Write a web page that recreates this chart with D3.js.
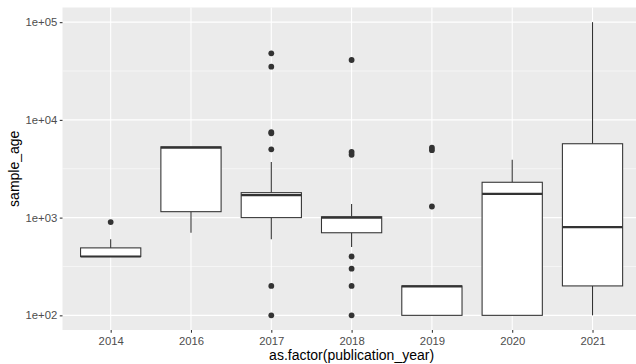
<!DOCTYPE html>
<html>
<head>
<meta charset="utf-8">
<script src="https://cdn.jsdelivr.net/npm/d3@7"></script>
<style>
  body { margin: 0; background: #fff; }
  text { font-family: "Liberation Sans", Arial, sans-serif; }
</style>
</head>
<body>
<div id="chart"></div>
<script>
// Box stats, one entry per publication year
var years = ["2014", "2016", "2017", "2018", "2019", "2020", "2021"];
var whiskerLow  = [400,  700, 600,  500, 100, 100, 100];
var q1          = [400, 1150, 1000, 700, 100, 100, 200];
var median      = [400, 5200, 1700, 1000, 198, 1750, 800];
var q3          = [490, 5300, 1800, 1020, 200, 2300, 5700];
var whiskerHigh = [600, 5300, 3700, 1380, 200, 3900, 100000];
var outliers = [
  [900],
  [],
  [48000, 35000, 7500, 7300, 5000, 200, 100],
  [41000, 4700, 4400, 400, 300, 200, 100],
  [5200, 4900, 1300],
  [],
  []
];
var yBreaks = [1e2, 1e3, 1e4, 1e5];
var yMinor = [Math.pow(10, 2.5), Math.pow(10, 3.5), Math.pow(10, 4.5)];

var W = 636, H = 364;
var panel = {left: 62.5, right: 640.7, top: 7.5, bottom: 330};

var svg = d3.select("#chart").append("svg")
  .attr("width", W)
  .attr("height", H);

var x = d3.scalePoint()
  .domain(years)
  .range([panel.left, panel.right])
  .padding(0.6);

var y = d3.scaleLog()
  .domain([Math.pow(10, 1.85), Math.pow(10, 5.15)])
  .range([panel.bottom, panel.top]);

var boxW = x.step() * 0.75;

//panel background + grid
svg.append("rect")
  .attr("x", panel.left).attr("y", panel.top)
  .attr("width", panel.right - panel.left)
  .attr("height", panel.bottom - panel.top)
  .attr("fill", "#EBEBEB");

svg.selectAll(".minor")
  .data(yMinor).enter().append("line")
  .attr("x1", panel.left).attr("x2", panel.right)
  .attr("y1", y).attr("y2", y)
  .attr("stroke", "#fff").attr("stroke-width", 0.53);

svg.selectAll(".hmajor")
  .data(yBreaks).enter().append("line")
  .attr("x1", panel.left).attr("x2", panel.right)
  .attr("y1", y).attr("y2", y)
  .attr("stroke", "#fff").attr("stroke-width", 1.07);

svg.selectAll(".vmajor")
  .data(years).enter().append("line")
  .attr("x1", x).attr("x2", x)
  .attr("y1", panel.top).attr("y2", panel.bottom)
  .attr("stroke", "#fff").attr("stroke-width", 1.07);

//boxes
var g = svg.selectAll(".box")
  .data(years).enter().append("g")
  .attr("class", "box");

g.append("line")
  .attr("x1", x).attr("x2", x)
  .attr("y1", function(d, i) { return y(whiskerHigh[i]); })
  .attr("y2", function(d, i) { return y(q3[i]); })
  .attr("stroke", "#333333").attr("stroke-width", 1.07);

g.append("line")
  .attr("x1", x).attr("x2", x)
  .attr("y1", function(d, i) { return y(q1[i]); })
  .attr("y2", function(d, i) { return y(whiskerLow[i]); })
  .attr("stroke", "#333333").attr("stroke-width", 1.07);

g.append("rect")
  .attr("x", function(d) { return x(d) - boxW / 2; })
  .attr("width", boxW)
  .attr("y", function(d, i) { return y(q3[i]); })
  .attr("height", function(d, i) { return y(q1[i]) - y(q3[i]); })
  .attr("fill", "#fff")
  .attr("stroke", "#333333").attr("stroke-width", 1.07);

g.append("line")
  .attr("x1", function(d) { return x(d) - boxW / 2; })
  .attr("x2", function(d) { return x(d) + boxW / 2; })
  .attr("y1", function(d, i) { return y(median[i]); })
  .attr("y2", function(d, i) { return y(median[i]); })
  .attr("stroke", "#333333").attr("stroke-width", 2.2);

g.each(function(d, i) {
  d3.select(this).selectAll("circle")
    .data(outliers[i]).enter().append("circle")
    .attr("cx", x(d))
    .attr("cy", function(v) { return y(v); })
    .attr("r", 2.9)
    .attr("fill", "#333333");
});

//axes
var xAxis = svg.append("g")
  .attr("transform", "translate(0," + panel.bottom + ")")
  .call(d3.axisBottom(x).tickSize(2.74).tickPadding(4.6));

var yAxis = svg.append("g")
  .attr("transform", "translate(" + panel.left + ",0)")
  .call(d3.axisLeft(y).tickValues(yBreaks).tickSize(2.74).tickPadding(2.5)
    .tickFormat(function(d) { return "1e+0" + Math.round(Math.log10(d)); }));

[xAxis, yAxis].forEach(function(a) {
  a.select(".domain").remove();
  a.selectAll(".tick line").attr("stroke", "#333333").attr("stroke-width", 1.07);
  a.selectAll(".tick text")
    .attr("fill", "#4D4D4D")
    .style("font-size", "11.3px");
});

svg.append("text")
  .attr("x", (panel.left + panel.right) / 2)
  .attr("y", 360.2)
  .attr("text-anchor", "middle")
  .attr("fill", "#000")
  .style("font-size", "14px")
  .text("as.factor(publication_year)");

svg.append("text")
  .attr("transform", "translate(19," + ((panel.top + panel.bottom) / 2) + ") rotate(-90)")
  .attr("text-anchor", "middle")
  .attr("fill", "#000")
  .style("font-size", "14px")
  .text("sample_age");
</script>
</body>
</html>
